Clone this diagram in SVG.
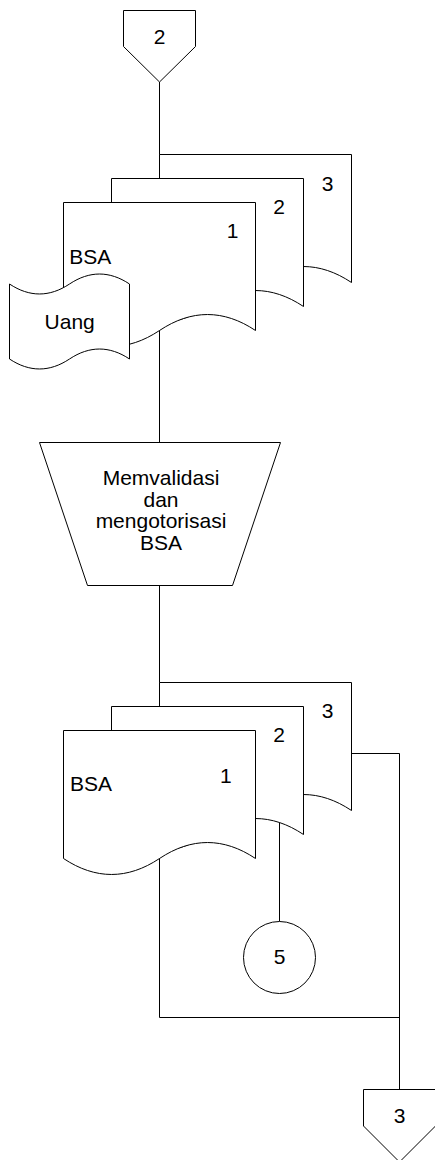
<svg xmlns="http://www.w3.org/2000/svg" width="435" height="1160" viewBox="0 0 435 1160">
<style>
.s{fill:#fff;stroke:#000;stroke-width:1}
.l{fill:none;stroke:#000;stroke-width:1}
text{font-family:"Liberation Sans",Arial,sans-serif;font-size:21px;fill:#000}
.c{text-anchor:middle}
</style>
<defs>
<path id="doc" d="M0,0 H192 V128 C160,106.7 128,106.7 96,128 C64,149.3 32,149.3 0,128 Z"/>
</defs>
<rect width="435" height="1160" fill="#fff"/>
<g id="connectors">
<path class="l" d="M159.5,82 V442.5"/>
<path class="l" d="M159.5,585.5 V1017.5 H399.5"/>
<path class="l" d="M279.5,760 V921.5"/>
<path class="l" d="M351.5,753.5 H399.5 V1089.5"/>
</g>
<g id="conn-2">
<path class="s" d="M123.5,10.5 H195.5 V46.5 L159.5,82 L123.5,46.5 Z"/>
<text class="c" x="159.5" y="44">2</text>
</g>
<g id="doc-top-3">
<use href="#doc" class="s" x="159.5" y="154.5"/>
<text x="321.7" y="190.5">3</text>
</g>
<g id="doc-top-2">
<use href="#doc" class="s" x="111.5" y="178.5"/>
<text x="273.3" y="213.5">2</text>
</g>
<g id="doc-top-1">
<use href="#doc" class="s" x="63.5" y="202.5"/>
<text x="226.7" y="237.5">1</text>
<text x="69.3" y="263.5">BSA</text>
</g>
<g id="uang">
<path class="s" d="M9.5,284 C29.5,297.3 49.5,297.3 69.5,284 C89.5,270.7 109.5,270.7 129.5,284 V359 C109.5,345.7 89.5,345.7 69.5,359 C49.5,372.3 29.5,372.3 9.5,359 Z"/>
<text class="c" x="69.7" y="328.5">Uang</text>
</g>
<g id="process">
<path class="s" d="M39.5,442.5 H280.5 L232.5,585.5 H87.5 Z"/>
<text class="c" x="161" y="485">Memvalidasi</text>
<text class="c" x="161" y="506.7">dan</text>
<text class="c" x="161" y="528.3">mengotorisasi</text>
<text class="c" x="161" y="550">BSA</text>
</g>
<g id="doc-bot-3">
<use href="#doc" class="s" x="159.5" y="682.5"/>
<text x="321.7" y="717.5">3</text>
</g>
<g id="doc-bot-2">
<use href="#doc" class="s" x="111.5" y="706.5"/>
<text x="273.3" y="741.7">2</text>
</g>
<g id="doc-bot-1">
<use href="#doc" class="s" x="63.5" y="730.5"/>
<text x="220" y="783">1</text>
<text x="70" y="791">BSA</text>
</g>
<g id="conn-5">
<circle class="s" cx="279.5" cy="957.5" r="36"/>
<text class="c" x="279.5" y="964">5</text>
</g>
<g id="conn-3">
<path class="s" d="M363.5,1089.5 H435.5 V1126 L399.5,1162 L363.5,1126 Z"/>
<text class="c" x="399.5" y="1123.3">3</text>
</g>
</svg>
